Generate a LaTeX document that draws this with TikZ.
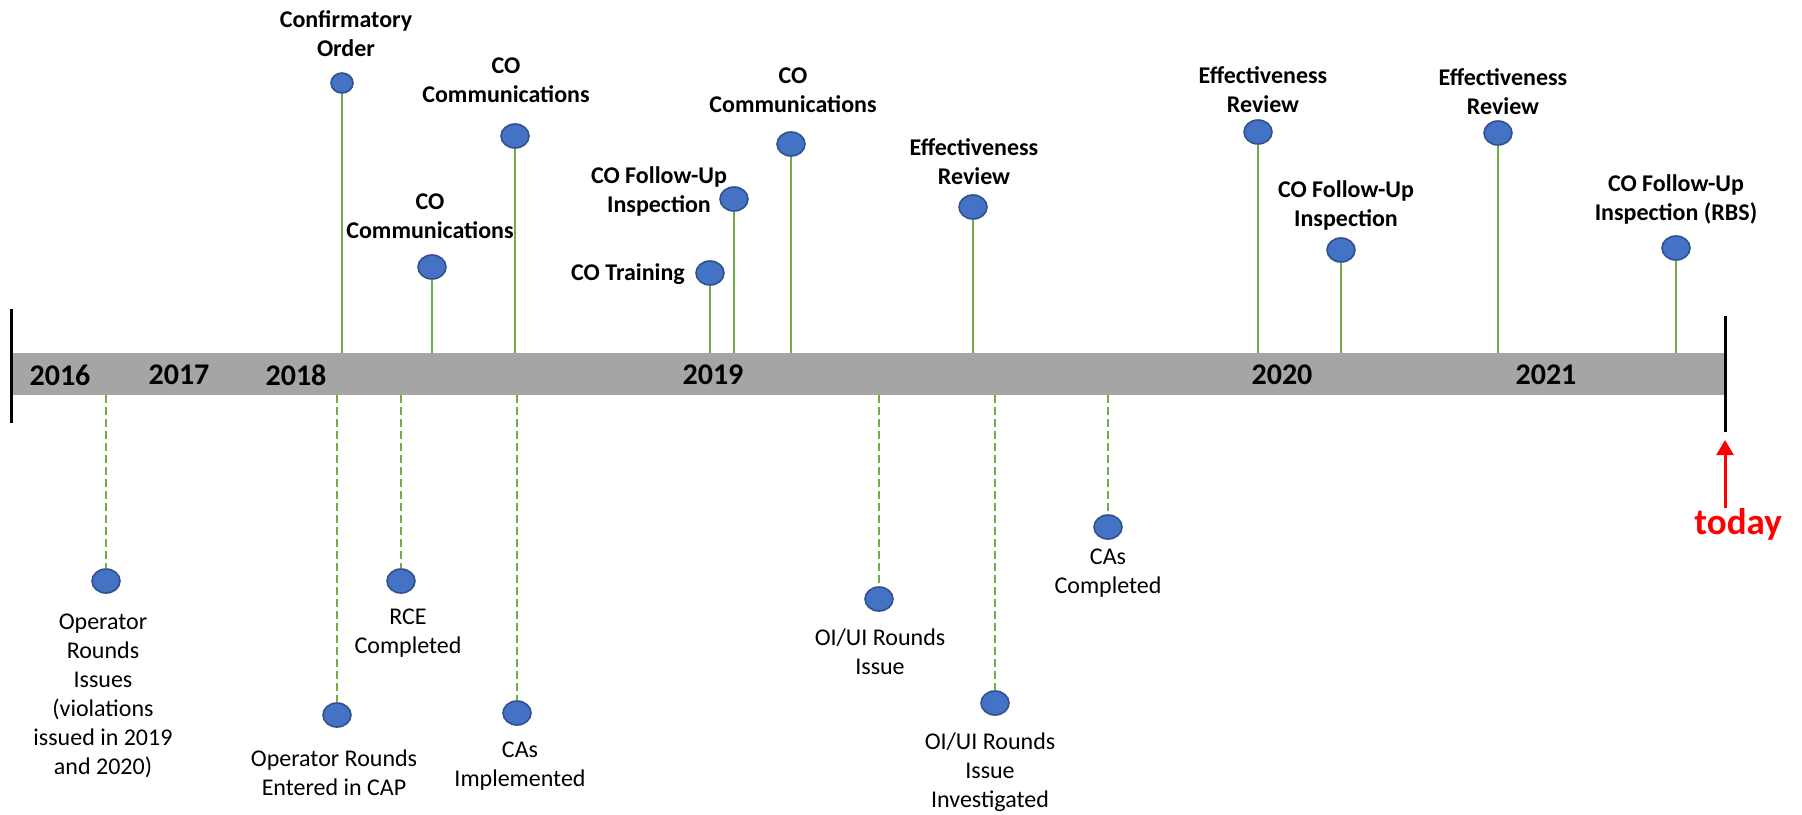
\documentclass[tikz,border=0pt]{standalone}
\usepackage{fontspec}
\setmainfont{Carlito}
\usetikzlibrary{shapes.geometric,arrows.meta}
\definecolor{dotblue}{HTML}{4472C4}
\definecolor{dotedge}{HTML}{2F528F}
\definecolor{stemgreen}{HTML}{70AD47}
\definecolor{bargray}{HTML}{A5A5A5}
\tikzset{
  dot/.style={ellipse, draw=dotedge, fill=dotblue, line width=0.8pt, minimum width=14pt, minimum height=12pt, inner sep=0pt},
  smalldot/.style={dot, minimum width=11pt, minimum height=10pt},
  toplbl/.style={font=\fontsize{12}{14.5}\selectfont\bfseries, align=center, inner sep=0pt},
  botlbl/.style={font=\fontsize{12}{14.5}\selectfont, align=center, inner sep=0pt},
  stem/.style={draw=stemgreen, line width=1pt},
  dstem/.style={stem, dash pattern=on 4pt off 2pt},
  year/.style={font=\fontsize{15}{18}\selectfont\bfseries, inner sep=0pt}
}
\begin{document}
\begin{tikzpicture}[x=0.5pt,y=-0.5pt]
\useasboundingbox (0,0) rectangle (1802,814);
\node[fill=bargray, minimum width=856.5pt, minimum height=21pt, inner sep=0pt] (bar) at (867.5,374) {};
\draw[line width=1.5pt] (11,309)--(11,423);
\draw[line width=1.5pt] (1725,316)--(1725,432);
\foreach \yr/\x in {2016/60,2017/179,2018/296,2019/713,2020/1282,2021/1546}{
\node[year] (y\yr) at (\x,375) {\yr};
}

% above the bar
\node[smalldot] (t1) at (342,83) {};
\node[toplbl] (t1l) at (346,34) {Confirmatory\\Order};
\node[dot] (t2) at (432,267) {};
\node[toplbl] (t2l) at (430,216) {CO\\Communications};
\node[dot] (t3) at (515,136) {};
\node[toplbl] (t3l) at (506,80) {CO\\Communications};
\node[dot] (t4) at (710,273) {};
\node[toplbl] (t4l) at (628,274) {CO Training};
\node[dot] (t5) at (734,199) {};
\node[toplbl] (t5l) at (659,191) {CO Follow-Up\\Inspection};
\node[dot] (t6) at (791,144) {};
\node[toplbl] (t6l) at (793,90) {CO\\Communications};
\node[dot] (t7) at (973,207) {};
\node[toplbl] (t7l) at (974,162) {Effectiveness\\Review};
\node[dot] (t8) at (1258,132) {};
\node[toplbl] (t8l) at (1263,90) {Effectiveness\\Review};
\node[dot] (t9) at (1341,250) {};
\node[toplbl] (t9l) at (1346,205) {CO Follow-Up\\Inspection};
\node[dot] (t10) at (1498,133) {};
\node[toplbl] (t10l) at (1503,92) {Effectiveness\\Review};
\node[dot] (t11) at (1676,248) {};
\node[toplbl] (t11l) at (1676,199) {CO Follow-Up\\Inspection (RBS)};
\foreach \i in {1,...,11}{
\draw[stem] (t\i) -- (t\i |- bar.north);
}

% below the bar
\node[dot] (b1) at (106,581) {};
\node[botlbl] (b1l) at (103,696) {Operator\\Rounds\\Issues\\(violations\\issued in 2019\\and 2020)};
\node[dot] (b2) at (337,715) {};
\node[botlbl] (b2l) at (334,773) {Operator Rounds\\Entered in CAP};
\node[dot] (b3) at (401,581) {};
\node[botlbl] (b3l) at (408,633) {RCE\\Completed};
\node[dot] (b4) at (517,713) {};
\node[botlbl] (b4l) at (520,766) {CAs\\Implemented};
\node[dot] (b5) at (879,599) {};
\node[botlbl] (b5l) at (880,652) {OI/UI Rounds\\Issue};
\node[dot] (b6) at (995,703) {};
\node[botlbl] (b6l) at (990,772) {OI/UI Rounds\\Issue\\Investigated};
\node[dot] (b7) at (1108,527) {};
\node[botlbl] (b7l) at (1108,573) {CAs\\Completed};
\foreach \i in {1,...,7}{
\draw[dstem] (b\i |- bar.south) -- (b\i);
}

\node[font=\fontsize{18.5}{22}\selectfont\bfseries, text=red, inner sep=0pt] (today) at (1738,524) {today};
\coordinate (now) at (1725,440);
\draw[red, line width=1.5pt, -{Triangle[width=8.5pt,length=7.5pt]}] (now |- today.north) -- (now);
\end{tikzpicture}
\end{document}
